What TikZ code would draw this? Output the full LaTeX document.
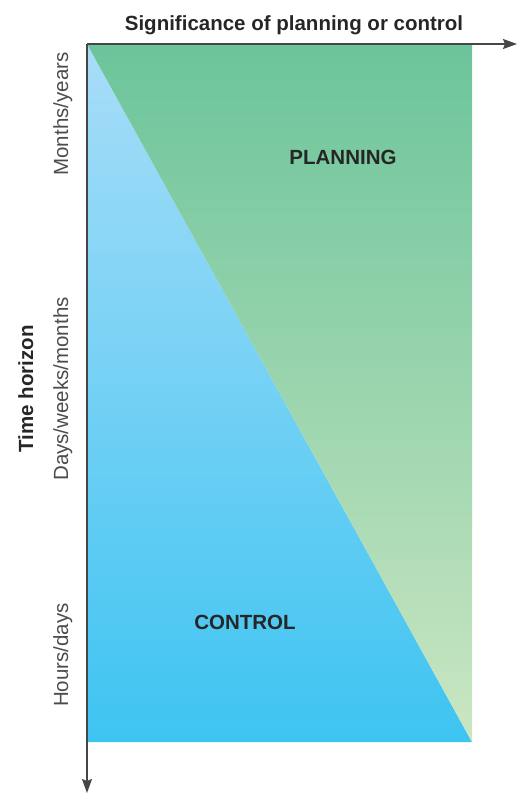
\documentclass[tikz,border=0pt]{standalone}
\usepackage{fontspec}
\setmainfont{Liberation Sans}
\definecolor{skytop}{RGB}{168, 221, 248}
\definecolor{skybottom}{RGB}{62, 196, 241}
\definecolor{leaftop}{RGB}{108, 196, 155}
\definecolor{leafbottom}{RGB}{202, 230, 194}
\definecolor{axisgray}{RGB}{70, 70, 70}
\usetikzlibrary{
  arrows.meta,
  positioning,
}
\tikzset{
  >={Stealth[length=14pt,width=10pt,inset=2pt]},
  axislabel/.style={font=\fontsize{20.5}{24}\selectfont\bfseries,text=black!85,anchor=base},
  ticklabel/.style={font=\fontsize{20.5}{24}\selectfont,text=black!70,rotate=90,anchor=base},
}

\begin{document}
\begin{tikzpicture}[x=1pt,y=-1pt]
        \useasboundingbox (0,0) rectangle (517,794);

        \coordinate (o)    at (87,44);
        \coordinate (tr)   at (472,44);
        \coordinate (br)   at (472,742);
        \coordinate (bl)   at (87,742);
        \coordinate (xend) at (517,44);
        \coordinate (yend) at (87,793);

        \shade[top color=skytop,bottom color=skybottom]   (o) -- (br) -- (bl) -- cycle;
        \shade[top color=leaftop,bottom color=leafbottom] (o) -- (tr) -- (br) -- cycle;

        \draw[->,axisgray,line width=1.5pt] (o) -- (xend);
        \draw[->,axisgray,line width=1.5pt] (o) -- (yend);

        \node[axislabel]           (sig)     at (294,31)  {Significance of planning or control};
        \node[axislabel,rotate=90] (horizon) at (33,389)  {Time horizon};
        \node[ticklabel]           (months)  at (68,114)  {Months/years};
        \node[ticklabel]           (days)    at (68,389)  {Days/weeks/months};
        \node[ticklabel]           (hours)   at (68,655)  {Hours/days};
        \node[axislabel]           (plan)    at (343,165) {PLANNING};
        \node[axislabel]           (ctrl)    at (245,629) {CONTROL};

    \end{tikzpicture}
\end{document}
